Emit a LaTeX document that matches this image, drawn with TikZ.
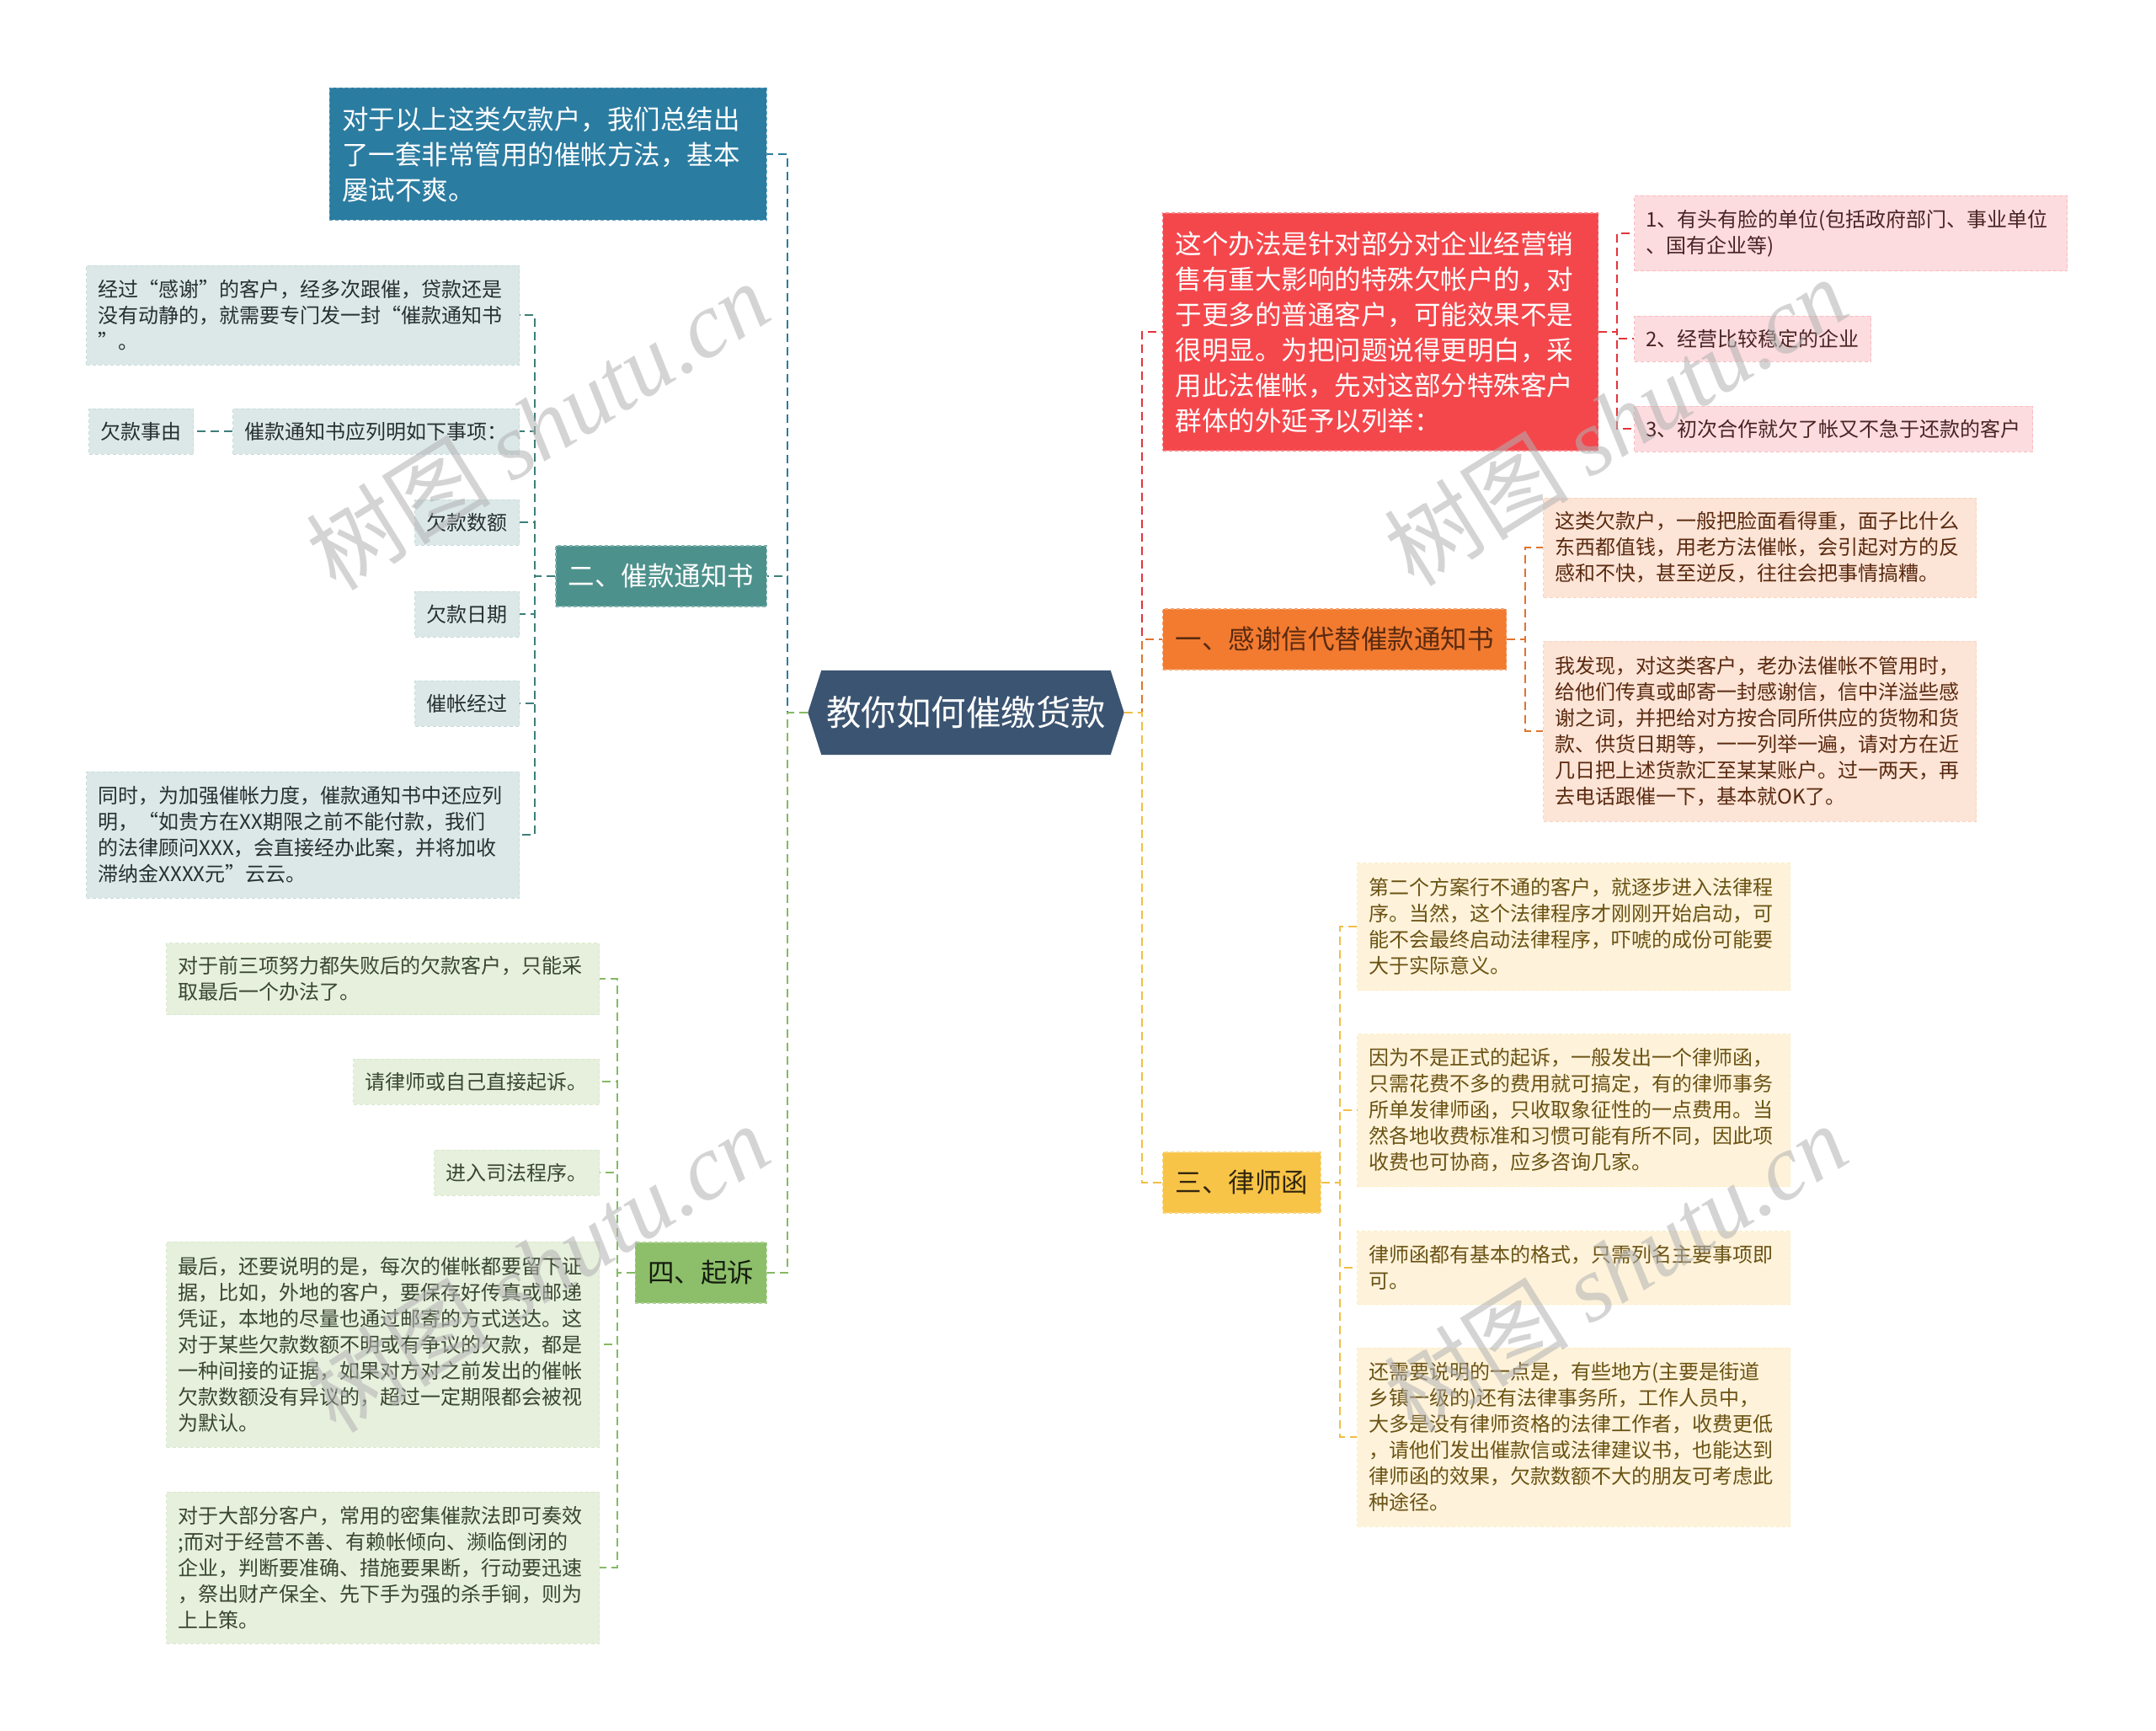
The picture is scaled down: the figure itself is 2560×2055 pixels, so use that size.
\documentclass[tikz,border=0pt]{standalone}
\usepackage{fontspec}
\setmainfont{Noto Sans CJK SC}
\newfontfamily\wmserif{Liberation Serif}
\usetikzlibrary{backgrounds}
\definecolor{rootc}{HTML}{3B5471}
\definecolor{redc}{HTML}{F4474C}
\definecolor{redl}{HTML}{FCDCDF}
\definecolor{orac}{HTML}{F27B30}
\definecolor{oral}{HTML}{FCE4D6}
\definecolor{yelc}{HTML}{F8C447}
\definecolor{yell}{HTML}{FEF3DA}
\definecolor{grnc}{HTML}{8DBF6A}
\definecolor{grnl}{HTML}{E6F0DD}
\definecolor{tealc}{HTML}{4D918C}
\definecolor{teall}{HTML}{DCE8E8}
\definecolor{bluec}{HTML}{2B7CA1}
\definecolor{lred}{HTML}{E2343A}
\definecolor{lora}{HTML}{E0742E}
\definecolor{lyel}{HTML}{F2BE45}
\definecolor{lgrn}{HTML}{86BA62}
\definecolor{ltea}{HTML}{3D7E7A}
\definecolor{lblu}{HTML}{2B7CA1}
\definecolor{tred}{HTML}{4A2424}
\definecolor{tora}{HTML}{5A2A10}
\definecolor{tyel}{HTML}{6B5214}
\definecolor{tgrn}{HTML}{3A4630}
\definecolor{ttea}{HTML}{26302F}
\begin{document}
\begin{tikzpicture}[x=1pt,y=-1pt,
  mainbox/.style={font=\fontsize{31.5}{42}\selectfont, inner xsep=15pt, inner ysep=0pt, minimum height=72pt, dashed, line width=1.2pt, dash pattern=on 4pt off 3pt},
  leaf/.style={font=\fontsize{24}{31}\selectfont, inner xsep=14pt, inner ysep=0pt, minimum height=54pt, dashed, line width=1pt, dash pattern=on 4pt off 3pt},
  wide/.style={text width=486pt, align=left},
  redleaf/.style={leaf, fill=redl, draw=redl!85!red, text=tred},
  oraleaf/.style={leaf, fill=oral, draw=oral!85!orac, text=tora},
  yelleaf/.style={leaf, fill=yell, draw=yell!85!yelc, text=tyel},
  grnleaf/.style={leaf, fill=grnl, draw=grnl!85!grnc, text=tgrn},
  tealeaf/.style={leaf, fill=teall, draw=teall!85!tealc, text=ttea},
  conn/.style={line width=2.3pt, dash pattern=on 10pt off 6pt},
  wm/.style={font=\fontsize{110}{110}\selectfont, text=black!30, opacity=0.55, rotate=32}
]
\begin{scope}[on background layer]
\fill[white] (0,0) rectangle (2560,2055);
\end{scope}
\useasboundingbox (0,0) rectangle (2560,2055);

% root
\node[font=\fontsize{41.5}{50}\selectfont, text=white, minimum width=375pt, minimum height=100pt, inner sep=0pt] (root) at (1147,846) {教你如何催缴货款};
\begin{scope}[on background layer]
\fill[rootc] (root.west) -- ([xshift=16pt]root.north west) -- ([xshift=-16pt]root.north east) -- (root.east) -- ([xshift=-16pt]root.south east) -- ([xshift=16pt]root.south west) -- cycle;
\end{scope}

% right main branches
\node[mainbox, anchor=west, fill=redc, draw=redc!70!white, text=white, text width=487pt, align=left, minimum height=282pt] (red) at (1380,394) {这个办法是针对部分对企业经营销\\售有重大影响的特殊欠帐户的，对\\于更多的普通客户，可能效果不是\\很明显。为把问题说得更明白，采\\用此法催帐，先对这部分特殊客户\\群体的外延予以列举：};
\node[mainbox, anchor=west, fill=orac, draw=orac!70!white, text=tora] (one) at (1380,759) {一、感谢信代替催款通知书};
\node[mainbox, anchor=west, fill=yelc, draw=yelc!70!white, text=black!80!yelc] (three) at (1380,1404) {三、律师函};

% left main branches
\node[mainbox, anchor=east, fill=bluec, draw=bluec!70!white, text=white, text width=489pt, align=left, minimum height=157pt] (blue) at (911,183) {对于以上这类欠款户，我们总结出\\了一套非常管用的催帐方法，基本\\屡试不爽。};
\node[mainbox, anchor=east, fill=tealc, draw=tealc!70!white, text=white] (two) at (911,684) {二、催款通知书};
\node[mainbox, anchor=east, fill=grnc, draw=grnc!70!white, text=black!85!grnc] (four) at (911,1511) {四、起诉};

% red leaves
\node[redleaf, anchor=west, text width=486pt, align=left, minimum height=89pt] (r1) at (1940,277) {1、有头有脸的单位(包括政府部门、事业单位\\、国有企业等)};
\node[redleaf, anchor=west] (r2) at (1940,402) {2、经营比较稳定的企业};
\node[redleaf, anchor=west] (r3) at (1940,509) {3、初次合作就欠了帐又不急于还款的客户};

% orange leaves
\node[oraleaf, wide, anchor=west, minimum height=118pt] (o1) at (1832,650) {这类欠款户，一般把脸面看得重，面子比什么\\东西都值钱，用老方法催帐，会引起对方的反\\感和不快，甚至逆反，往往会把事情搞糟。};
\node[oraleaf, wide, anchor=west, minimum height=214pt] (o2) at (1832,868) {我发现，对这类客户，老办法催帐不管用时，\\给他们传真或邮寄一封感谢信，信中洋溢些感\\谢之词，并把给对方按合同所供应的货物和货\\款、供货日期等，一一列举一遍，请对方在近\\几日把上述货款汇至某某账户。过一两天，再\\去电话跟催一下，基本就OK了。};

% yellow leaves
\node[yelleaf, wide, anchor=west, minimum height=151pt] (t1) at (1611,1100) {第二个方案行不通的客户，就逐步进入法律程\\序。当然，这个法律程序才刚刚开始启动，可\\能不会最终启动法律程序，吓唬的成份可能要\\大于实际意义。};
\node[yelleaf, wide, anchor=west, minimum height=181pt] (t2) at (1611,1318) {因为不是正式的起诉，一般发出一个律师函，\\只需花费不多的费用就可搞定，有的律师事务\\所单发律师函，只收取象征性的一点费用。当\\然各地收费标准和习惯可能有所不同，因此项\\收费也可协商，应多咨询几家。};
\node[yelleaf, wide, anchor=west, minimum height=87pt] (t3) at (1611,1505) {律师函都有基本的格式，只需列名主要事项即\\可。};
\node[yelleaf, wide, anchor=west, minimum height=212pt] (t4) at (1611,1706) {还需要说明的一点是，有些地方(主要是街道\\乡镇一级的)还有法律事务所，工作人员中，\\大多是没有律师资格的法律工作者，收费更低\\，请他们发出催款信或法律建议书，也能达到\\律师函的效果，欠款数额不大的朋友可考虑此\\种途径。};

% teal leaves
\node[tealeaf, wide, anchor=east, minimum height=118pt] (c1) at (617,374) {经过“感谢”的客户，经多次跟催，贷款还是\\没有动静的，就需要专门发一封“催款通知书\\”。};
\node[tealeaf, anchor=east] (c2) at (617,512) {催款通知书应列明如下事项：};
\node[tealeaf, anchor=east] (qksx) at (230,512) {欠款事由};
\node[tealeaf, anchor=east] (c3) at (617,620) {欠款数额};
\node[tealeaf, anchor=east] (c4) at (617,729) {欠款日期};
\node[tealeaf, anchor=east] (c5) at (617,835) {催帐经过};
\node[tealeaf, wide, anchor=east, minimum height=150pt] (c6) at (617,991) {同时，为加强催帐力度，催款通知书中还应列\\明，“如贵方在XX期限之前不能付款，我们\\的法律顾问XXX，会直接经办此案，并将加收\\滞纳金XXXX元”云云。};

% green leaves
\node[grnleaf, wide, anchor=east, minimum height=85pt] (d1) at (712,1162) {对于前三项努力都失败后的欠款客户，只能采\\取最后一个办法了。};
\node[grnleaf, anchor=east] (d2) at (712,1284) {请律师或自己直接起诉。};
\node[grnleaf, anchor=east] (d3) at (712,1392) {进入司法程序。};
\node[grnleaf, wide, anchor=east, minimum height=244pt] (d4) at (712,1596) {最后，还要说明的是，每次的催帐都要留下证\\据，比如，外地的客户，要保存好传真或邮递\\凭证，本地的尽量也通过邮寄的方式送达。这\\对于某些欠款数额不明或有争议的欠款，都是\\一种间接的证据，如果对方对之前发出的催帐\\欠款数额没有异议的，超过一定期限都会被视\\为默认。};
\node[grnleaf, wide, anchor=east, minimum height=180pt] (d5) at (712,1861) {对于大部分客户，常用的密集催款法即可奏效\\;而对于经营不善、有赖帐倾向、濒临倒闭的\\企业，判断要准确、措施要果断，行动要迅速\\，祭出财产保全、先下手为强的杀手锏，则为\\上上策。};

% root connectors
\draw[conn, draw=lred] (root.east) -- ++(21,0) |- (red.west);
\draw[conn, draw=lora] (root.east) -- ++(21,0) |- (one.west);
\draw[conn, draw=lyel] (root.east) -- ++(21,0) |- (three.west);
\draw[conn, draw=ltea] (root.west) -- ++(-24,0) |- (two.east);
\draw[conn, draw=lblu] (root.west) -- ++(-24,0) |- (blue.east);
\draw[conn, draw=lgrn] (root.west) -- ++(-24,0) |- (four.east);

% leaf connectors
\foreach \n in {r1,r2,r3} \draw[conn, draw=lred] (red.east) -- ++(22,0) |- (\n.west);
\foreach \n in {o1,o2} \draw[conn, draw=lora] (one.east) -- ++(22,0) |- (\n.west);
\foreach \n in {t1,t2,t3,t4} \draw[conn, draw=lyel] (three.east) -- ++(22,0) |- (\n.west);
\foreach \n in {c1,c2,c3,c4,c5,c6} \draw[conn, draw=ltea] (two.west) -- ++(-24,0) |- (\n.east);
\draw[conn, draw=ltea] (c2.west) -- (qksx.east);
\foreach \n in {d1,d2,d3,d4,d5} \draw[conn, draw=lgrn] (four.west) -- ++(-21,0) |- (\n.east);

% watermarks
\node[wm] (wm1) at (638,505) {树图 {\wmserif\itshape shutu.cn}};
\node[wm] (wm2) at (1918,500) {树图 {\wmserif\itshape shutu.cn}};
\node[wm] (wm3) at (638,1505) {树图 {\wmserif\itshape shutu.cn}};
\node[wm] (wm4) at (1918,1505) {树图 {\wmserif\itshape shutu.cn}};
\end{tikzpicture}
\end{document}
